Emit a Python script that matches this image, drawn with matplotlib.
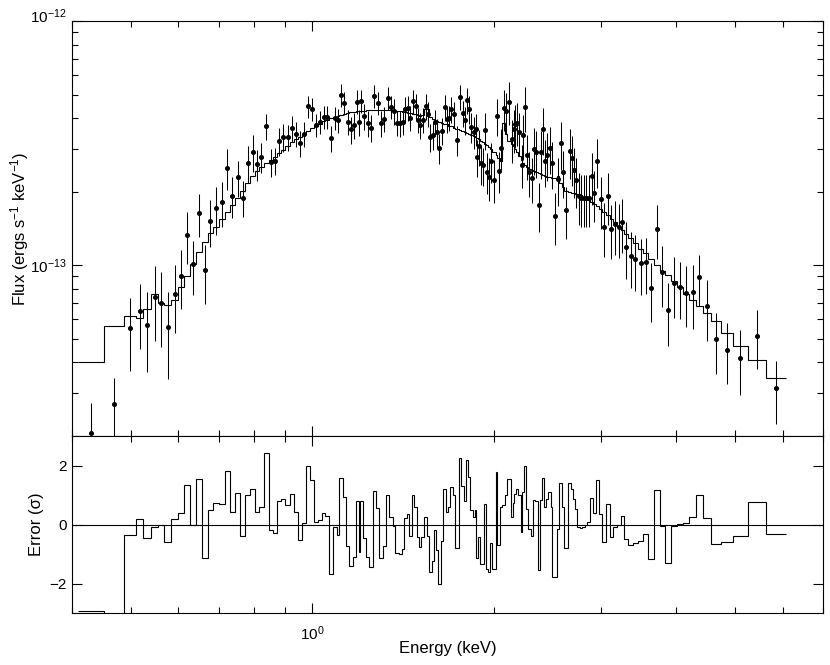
import numpy as np
import matplotlib
matplotlib.use("Agg")
import matplotlib.pyplot as plt
from matplotlib.ticker import NullFormatter, FixedLocator, NullLocator
import matplotlib.transforms as mtransforms

plt.rcParams['font.family'] = ['Liberation Sans', 'DejaVu Sans']
plt.rcParams['mathtext.fontset'] = 'custom'
plt.rcParams['mathtext.rm'] = 'Liberation Sans'
plt.rcParams['mathtext.it'] = 'Liberation Sans:italic'
plt.rcParams['mathtext.bf'] = 'Liberation Sans:bold'

# bin edges (keV)
energy_edges = [0.4093,0.4519,0.4884,0.5112,0.5242,0.5412,0.555,0.5678,0.584,0.5989,0.6127,0.6278,0.6423,0.6572,0.6713,0.6842,0.6992,0.7154,0.7291,0.744,0.7594,0.774,0.7889,0.8041,0.8164,0.8308,0.8468,0.8598,0.8753,0.8887,0.9023,0.9186,0.9338,0.9481,0.9616,0.9763,0.9913,1.005,1.022,1.036,1.051,1.064,1.08,1.097,1.108,1.122,1.137,1.151,1.166,1.181,1.193,1.2,1.211,1.227,1.242,1.258,1.274,1.29,1.307,1.324,1.341,1.361,1.371,1.389,1.407,1.418,1.432,1.443,1.461,1.474,1.49,1.503,1.512,1.532,1.547,1.561,1.575,1.587,1.601,1.611,1.632,1.648,1.663,1.678,1.691,1.706,1.721,1.75,1.765,1.779,1.795,1.811,1.825,1.841,1.857,1.867,1.881,1.895,1.912,1.924,1.937,1.954,1.969,1.986,2.012,2.024,2.045,2.063,2.082,2.103,2.13,2.147,2.157,2.174,2.19,2.213,2.226,2.241,2.258,2.275,2.299,2.319,2.337,2.361,2.382,2.402,2.418,2.439,2.458,2.481,2.496,2.538,2.563,2.587,2.609,2.652,2.677,2.703,2.721,2.745,2.77,2.798,2.823,2.851,2.884,2.914,2.944,2.978,3.018,3.06,3.103,3.147,3.193,3.238,3.282,3.333,3.39,3.458,3.529,3.596,3.675,3.756,3.828,3.916,4.016,4.109,4.204,4.312,4.424,4.56,4.737,4.97,5.256,5.629,6.081]

# observed flux and 1-sigma error per bin (1e-15 ergs s^-1 keV^-1)
flux_e15 = [20.5,27.1,55.2,64.7,56.9,73.9,69.8,56,76.6,90.8,133,101,163,95.2,152,171,181,251,193,229,189,262,291,259,277,371,264,268,323,335,335,364,346,316,346,447,436,376,386,405,406,332,402,392,499,463,387,360,375,468,385,471,408,381,366,493,462,381,398,485,444,427,384,381,387,435,441,401,469,447,394,375,394,449,417,335,342,385,351,302,356,443,397,401,436,416,326,490,419,392,473,437,368,351,362,278,307,261,257,358,241,230,267,224,408,244,303,439,427,467,329,360,379,383,351,258,342,443,283,241,228,299,291,177,290,361,268,284,302,262,159,225,316,241,169,294,275,246,223,192,189,188,189,188,232,197,268,186,144,192,141,147,143,150,119,109,106,102,103,80.6,141,93.8,65.9,84.7,81.6,77.3,77.4,89.2,67.9,50,45.2,41.8,51.5,31.4]

flux_err_e15 = [6.77,7.59,18.2,19.4,20.5,25.1,23.7,21.8,23.7,24.5,31.9,25.2,32.6,25.7,33.4,37.6,38,47.7,36.7,37.8,32.1,44.5,49.5,37.6,38.8,44.5,34.3,34.8,42,43.6,40.2,43.7,41.5,37.9,41.5,46.9,48,41.4,42.5,44.5,44.7,39.8,44.2,43.1,54.9,50.9,46.4,45,45,51.5,46.2,51.8,49,45.7,45.8,54.2,50.8,45.7,47.8,53.4,48.8,51.2,46.1,45.7,46.4,52.2,52.9,48.1,51.6,53.6,47.3,45,47.3,53.9,50,43.6,44.5,46.2,45.6,42.3,46.3,53.2,47.6,48.1,52.3,49.9,45.6,58.8,50.3,51,56.8,56.8,51.5,52.6,54.3,47.3,52.2,47,46.3,60.9,45.8,46,50.7,44.8,69.4,46.4,57.6,83.4,81.1,93.4,65.8,72,75.8,76.6,70.2,51.6,71.8,93,59.4,50.6,47.9,65.8,64,40.7,63.8,79.4,59,62.5,66.4,57.6,38.2,49.5,69.5,53,40.6,67.6,63.2,56.6,51.3,46.1,45.4,45.1,45.4,45.1,55.7,47.3,61.6,44.6,36,46.1,35.2,36.8,35.8,37.5,30.9,28.3,27.6,26.5,26.8,21.8,35.2,26.3,19.1,23.7,21.2,21.6,22.4,21.4,19,14,12.7,12.5,13.9,9.11]

# folded model per bin (1e-13 ergs s^-1 keV^-1)
model_e13 = [0.403,0.566,0.619,0.608,0.661,0.762,0.698,0.689,0.723,0.812,
0.901,1.01,1.13,1.24,1.35,1.43,1.55,1.65,1.77,1.89,
2.02,2.17,2.32,2.44,2.53,2.63,2.7,2.78,2.89,2.97,
3.09,3.19,3.28,3.36,3.44,3.54,3.63,3.72,3.79,3.88,
3.93,3.99,4.05,4.08,4.12,4.16,4.2,4.23,4.25,4.27,
4.28,4.29,4.3,4.31,4.32,4.32,4.33,4.33,4.32,4.32,
4.31,4.3,4.29,4.27,4.25,4.24,4.22,4.2,4.17,4.15,
4.13,4.1,4.14,4.36,4.36,4.05,3.97,3.93,3.9,3.86,
3.82,3.79,3.77,3.73,3.7,3.66,3.62,3.58,3.54,3.52,
3.48,3.45,3.42,3.38,3.35,3.32,3.28,3.24,3.19,3.15,
3.1,3.04,2.99,2.92,2.84,2.76,2.68,3.84,3.46,3.24,
3.13,3.07,3,2.92,2.81,2.7,2.63,2.57,2.52,2.48,
2.46,2.44,2.41,2.39,2.37,2.35,2.32,2.3,2.29,2.28,
2.27,2.32,2.17,2.09,2.02,1.99,1.98,1.97,1.96,1.95,
1.94,1.91,1.89,1.85,1.82,1.78,1.75,1.7,1.65,1.6,
1.55,1.5,1.44,1.39,1.34,1.29,1.23,1.17,1.12,1.06,
1,0.951,0.91,0.859,0.812,0.762,0.72,0.68,0.639,0.592,
0.527,0.467,0.408,0.344]

# residuals (sigma)
residual = [-2.94,-3.9,-0.37,0.2,-0.45,-0.09,0.0,-0.59,0.18,0.39,1.35,0.0,1.53,-1.12,0.5,0.74,
0.68,1.8,0.44,1.06,-0.39,1.01,1.19,0.41,0.61,2.42,-0.18,-0.3,0.81,0.88,0.65,1.03,
0.43,-0.52,0.05,1.98,1.52,0.09,0.16,0.38,0.3,-1.68,-0.07,-0.36,1.59,0.92,-0.72,-1.4,
-1.1,0.79,-0.92,0.81,-0.46,-1.1,-1.45,1.12,0.57,-1.14,-0.72,1.0,0.27,-0.05,-0.98,-1.01,
-0.82,0.21,0.35,-0.4,1.0,0.6,-0.41,-0.77,-0.43,0.25,-0.38,-1.62,-1.23,-0.18,-0.86,-2.0,
-0.57,1.2,0.41,0.59,1.26,1.0,-0.78,2.25,1.3,0.78,2.2,1.62,0.5,0.25,0.5,-1.14,
-0.41,-1.33,-1.35,0.7,-1.51,-1.62,-0.63,-1.51,1.79,-0.69,0.61,0.66,1.0,1.53,0.25,0.74,
1.04,1.19,1.0,-0.24,1.1,2.0,0.52,-0.14,-0.38,0.83,0.78,-1.53,0.83,1.59,0.61,0.86,
1.1,0.59,-1.79,-0.14,1.42,0.61,-0.8,1.4,1.22,0.86,0.52,-0.07,-0.12,-0.07,0.0,0.07,
0.9,0.4,1.51,0.36,-0.59,0.7,-0.41,-0.09,-0.02,0.29,-0.5,-0.7,-0.63,-0.57,-0.32,-1.17,
1.17,-0.05,-1.31,-0.05,0.02,0.05,0.24,0.99,0.21,-0.66,-0.59,-0.39,0.77,-0.33]

edges = np.array(energy_edges)
flux = np.array(flux_e15) * 1e-15
flux_err = np.array(flux_err_e15) * 1e-15
model = np.array(model_e13) * 1e-13
resid = np.array(residual)
centers = np.sqrt(edges[:-1] * edges[1:])

W, H = 830, 665
fig = plt.figure(figsize=(W / 100, H / 100), dpi=100)
L, R = 72, 823
ax1 = fig.add_axes([L / W, 1 - 436 / H, (R - L) / W, (436 - 21) / H])
ax2 = fig.add_axes([L / W, 1 - 613 / H, (R - L) / W, (613 - 436) / H], sharex=ax1)

ax1.stairs(model, edges, baseline=None, color='k', lw=0.8)
ax1.errorbar(centers, flux, yerr=flux_err, fmt='o', ms=2.6, color='k',
             ecolor='k', elinewidth=0.75, capsize=0)
ax1.set_xscale('log')
ax1.set_yscale('log')
ax1.set_xlim(0.4, 7.0)
ax1.set_ylim(2e-14, 1e-12)
ax1.yaxis.set_major_locator(FixedLocator([1e-13, 1e-12]))
ax1.yaxis.set_minor_formatter(NullFormatter())

ax2.stairs(resid, edges, baseline=None, color='k', lw=0.8)
ax2.axhline(0, color='k', lw=0.8)
ax2.set_ylim(-3, 3)
ax2.set_yticks([-2, 0, 2])
ax2.yaxis.set_minor_locator(NullLocator())
ax2.xaxis.set_minor_formatter(NullFormatter())

for ax in (ax1, ax2):
    ax.tick_params(which='both', direction='in', top=True, right=True, width=0.8, labelsize=11)
    ax.tick_params(which='major', length=7)
    ax.tick_params(which='minor', length=4)
    for s in ax.spines.values():
        s.set_linewidth(0.8)
ax1.tick_params(labelbottom=False)
ax2.tick_params(axis='x', pad=8)
ax1.tick_params(axis='y', pad=4)
ax2.tick_params(axis='y', pad=4)

ax1.set_ylabel('Flux (ergs s$^{-1}$ keV$^{-1}$)', fontsize=12)
ax1.yaxis.set_label_coords(-0.055, 0.5)
ax2.set_ylabel('Error (σ)', fontsize=12)
ax2.yaxis.set_label_coords(-0.037, 0.5)
ax2.set_xlabel('Energy (keV)', fontsize=12)
ax2.xaxis.set_label_coords(0.5, -0.158)

ticks = ax1.yaxis.get_major_ticks(2)
off = mtransforms.ScaledTranslation(0, 0.06, fig.dpi_scale_trans)
ticks[1].label1.set_transform(ticks[1].label1.get_transform() + off)

fig.savefig('out.png', dpi=100)
